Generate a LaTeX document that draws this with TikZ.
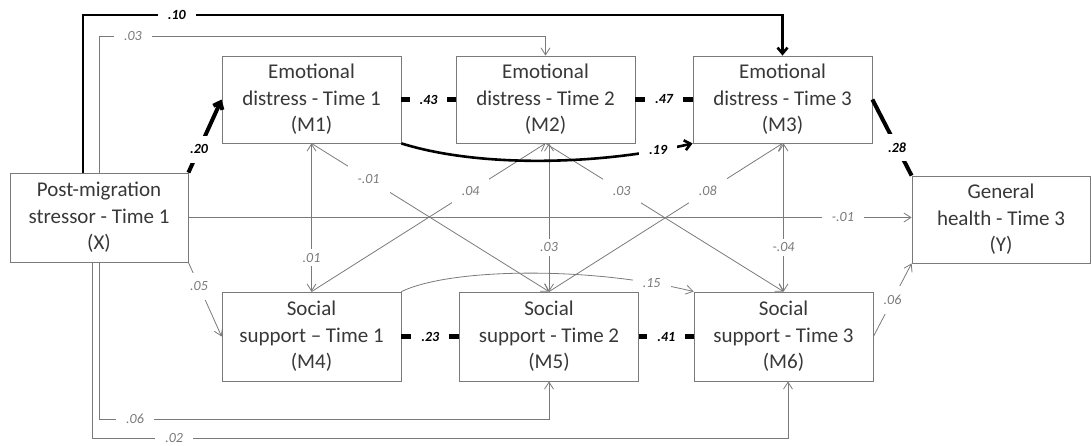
\documentclass[tikz,border=0pt]{standalone}
\usepackage{fontspec}
\setmainfont{Carlito}
\usetikzlibrary{arrows.meta}
\definecolor{lg}{HTML}{7A7A7A}
\definecolor{tx}{HTML}{383838}
\begin{document}
\begin{tikzpicture}[x=1pt,y=-1pt,
  box/.style={draw=lg, line width=0.8pt, minimum width=179pt, minimum height=87pt, inner sep=0pt, align=center, text=tx, font=\fontsize{21}{26.5}\selectfont},
  thin/.style={draw=lg, line width=0.8pt},
  thk/.style={draw=black, line width=2.6pt},
  thkr/.style={draw=black, line width=4pt},
  stub/.style={draw=black, line width=4.5pt},
  tip/.style={-{Straight Barb[length=7pt,width=9pt]}},
  tips/.style={{Straight Barb[length=7pt,width=9pt]}-{Straight Barb[length=7pt,width=9pt]}},
  tipb/.style={-{Straight Barb[length=6pt,width=10pt]}},
  lab/.style={fill=white, text=lg, font=\fontsize{14}{14}\selectfont\itshape, inner xsep=10pt, inner ysep=4pt},
  dlab/.style={lab, inner ysep=9pt},
  blab/.style={fill=white, text=black, font=\fontsize{14}{14}\selectfont\bfseries\itshape, inner xsep=10pt, inner ysep=4pt},
  dblab/.style={blab, inner ysep=9pt}
]
\useasboundingbox (0,0) rectangle (1091,445);

% boxes
\node[box, minimum width=178pt, minimum height=89pt] (X) at (99,217.5) {Post-migration\\stressor - Time 1\\(X)};
\node[box] (M1) at (311.5,99.5) {Emotional\\distress - Time 1\\(M1)};
\node[box] (M2) at (545.5,99.5) {Emotional\\distress - Time 2\\(M2)};
\node[box] (M3) at (782.5,99.5) {Emotional\\distress - Time 3\\(M3)};
\node[box, minimum width=178pt] (Y) at (1001,219.5) {General\\health - Time 3\\(Y)};
\node[box, minimum height=89pt] (M4) at (311.5,336.5) {Social\\support – Time 1\\(M4)};
\node[box, minimum height=89pt] (M5) at (549,336.5) {Social\\support - Time 2\\(M5)};
\node[box, minimum height=89pt] (M6) at (783.5,336.5) {Social\\support - Time 3\\(M6)};

\coordinate (xa) at ([xshift=-16pt]X.north);
\coordinate (xb) at ([xshift=-7pt]X.south);
\coordinate (m6b) at ([xshift=4.5pt]M6.south);

% outer routed paths
\draw[thk,tipb] (xa) -- (xa |- 0,15) -- node[blab,pos=0.134]{.10} (M3.north |- 0,15) -- (M3.north);
\draw[thin,tip] (X.north) -- (X.north |- 0,36) -- node[lab,pos=0.076]{.03} (M2.north |- 0,36) -- (M2.north);
\draw[thin,tip] (X.south) -- (X.south |- 0,419) -- node[lab,pos=0.08]{.06} (M5.south |- 0,419) -- (M5.south);
\draw[thin,tip] (xb) -- (xb |- 0,438) -- node[lab,pos=0.118,inner ysep=2pt]{.02} (m6b |- 0,438) -- (m6b);

% direct effects on X
\draw[thkr,tipb] (X.north east) -- node[dblab,pos=0.32]{.20} (M1.west);
\draw[thin,tip] (X.south east) -- node[dlab,pos=0.32]{.05} (M4.west);
\draw[thin,tip] (X.east) -- node[lab,pos=0.905]{-.01} (X.east -| Y.west);

% autoregressive paths
\draw[stub] (M1.east) -- node[blab]{.43} (M2.west);
\draw[stub] (M2.east) -- node[blab]{.47} (M3.west);
\draw[stub] (M4.east) -- node[blab]{.23} (M5.west);
\draw[stub] (M5.east) -- node[blab]{.41} (M6.west);

% verticals
\draw[thin,tips] (M4.north) -- node[lab,pos=0.23]{.01} (M1.south);
\draw[thin,tips] (M5.north) -- node[lab,pos=0.3]{.03} (M5.north |- M2.south);
\draw[thin,tips] (M6.north) -- node[lab,pos=0.3]{-.04} (M6.north |- M3.south);

% cross-lagged diagonals
\draw[thin,tip] (M1.south) -- node[dlab,pos=0.24]{-.01} (M5.north);
\draw[thin,tip] (M4.north) -- node[dlab,pos=0.68]{.04} (M2.south);
\draw[thin,tip] (M2.south) -- node[dlab,pos=0.32]{.03} (M6.north);
\draw[thin,tip] (M5.north) -- node[dlab,pos=0.68]{.08} (M3.south);

% curved paths
\draw[thk,tipb] (M1.south east) .. controls (480,168) and (600,165) .. node[blab,pos=0.88]{.19} (M3.south west);
\draw[thin,tip] (M4.north east) .. controls (450,268) and (590,266) .. node[lab,pos=0.87]{.15} (M6.north west);

% to Y
\draw[thkr] (M3.east) -- node[dblab,pos=0.63]{.28} (Y.north west);
\draw[thin,tip] (M6.east) -- node[dlab,pos=0.5]{.06} (Y.south west);
\end{tikzpicture}
\end{document}
